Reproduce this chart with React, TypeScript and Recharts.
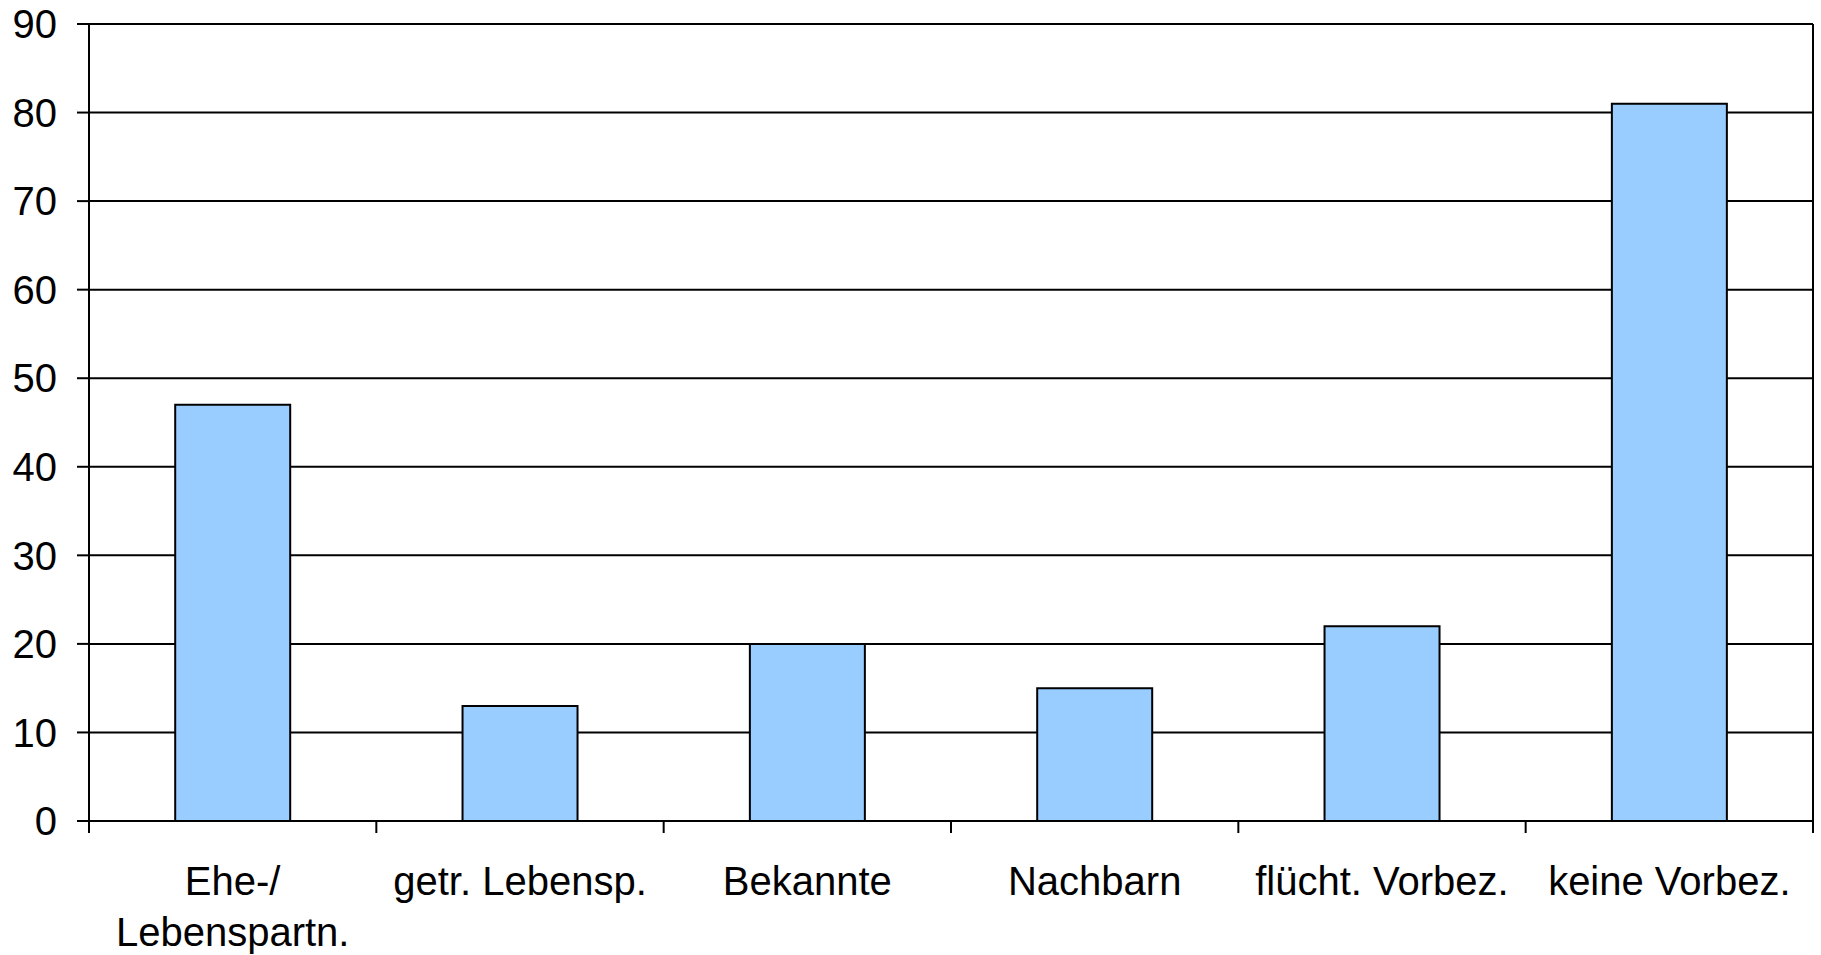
import React from "react";
import {
  BarChart,
  Bar,
  XAxis,
  YAxis,
  CartesianGrid,
} from "recharts";

// Kategorien (Zeilenumbruch mit \n) und Werte
const categories = [
  "Ehe-/\nLebenspartn.",
  "getr. Lebensp.",
  "Bekannte",
  "Nachbarn",
  "flücht. Vorbez.",
  "keine Vorbez.",
];
const values = [47, 13, 20, 15, 22, 81];
const yTicks = [0, 10, 20, 30, 40, 50, 60, 70, 80, 90];

const data = categories.map((name, i) => ({ name, value: values[i] }));

const FONT = "'Liberation Sans', Arial, sans-serif";
const TICK_LEN = 12;

// Beschriftung + Trennstriche zwischen den Kategorien (Excel-Stil)
function CategoryTick({ x, y, payload, width, visibleTicksCount, index }: any) {
  const lines = String(payload.value).split("\n");
  const step = width / visibleTicksCount;
  const left = x - step / 2;
  const right = x + step / 2;
  return (
    <g>
      <line x1={left} x2={left} y1={y} y2={y + TICK_LEN} stroke="#000" strokeWidth={2} />
      {index === visibleTicksCount - 1 && (
        <line x1={right} x2={right} y1={y} y2={y + TICK_LEN} stroke="#000" strokeWidth={2} />
      )}
      <text x={x} y={y} textAnchor="middle" fill="#000" fontSize={40} fontFamily={FONT}>
        {lines.map((line, i) => (
          <tspan key={i} x={x} dy={i === 0 ? 74 : 51}>
            {line}
          </tspan>
        ))}
      </text>
    </g>
  );
}

export default function App() {
  return (
    <div
      style={{
        position: "absolute",
        left: 0,
        top: 0,
        width: 1821,
        height: 955,
        background: "#fff",
        fontFamily: FONT,
      }}
    >
      <BarChart
        width={1821}
        height={955}
        data={data}
        margin={{ top: 24, right: 7, bottom: 0, left: 0 }}
        barCategoryGap="30%"
      >
        {/* Gitterlinien */}
        <CartesianGrid
          vertical={false}
          stroke="#000"
          strokeWidth={2}
          xAxisId="cat"
          yAxisId="left"
        />

        <XAxis
          xAxisId="cat"
          dataKey="name"
          height={134}
          interval={0}
          axisLine={{ stroke: "#000", strokeWidth: 2 }}
          tickLine={false}
          tickSize={0}
          tickMargin={0}
          tick={<CategoryTick />}
        />

        <YAxis
          yAxisId="left"
          width={89}
          domain={[0, 90]}
          ticks={yTicks}
          interval={0}
          tickSize={12}
          tickMargin={20}
          tick={{ fill: "#000", fontSize: 40, fontFamily: FONT }}
          axisLine={{ stroke: "#000", strokeWidth: 2 }}
          tickLine={{ stroke: "#000", strokeWidth: 2 }}
        />

        {/* rechter Rahmen */}
        <YAxis
          yAxisId="right"
          orientation="right"
          width={1}
          domain={[0, 90]}
          tick={false}
          tickLine={false}
          axisLine={{ stroke: "#000", strokeWidth: 2 }}
        />

        <Bar
          dataKey="value"
          xAxisId="cat"
          yAxisId="left"
          fill="#99CCFF"
          stroke="#000"
          strokeWidth={2}
          isAnimationActive={false}
        />
      </BarChart>
    </div>
  );
}
